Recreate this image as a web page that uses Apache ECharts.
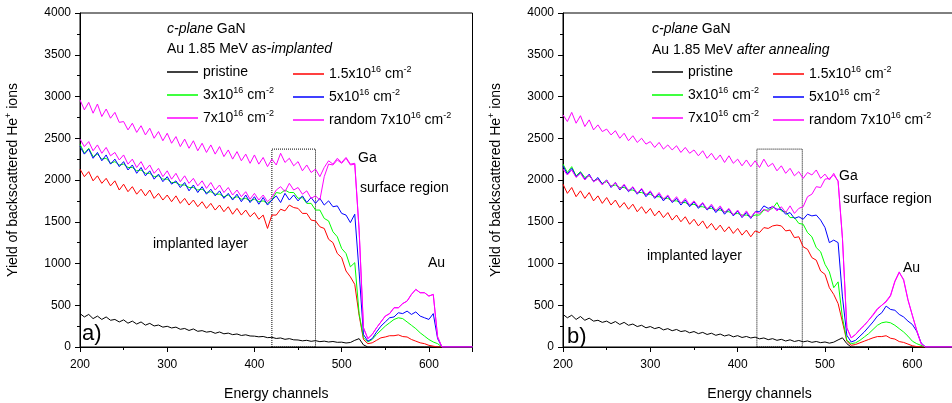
<!DOCTYPE html>
<html><head><meta charset="utf-8">
<script src="https://cdn.jsdelivr.net/npm/echarts@6/dist/echarts.min.js"></script>
<style>html,body{margin:0;padding:0;background:#fff}#c{width:952px;height:403px}</style>
</head><body><div id="c"></div><script>
// Energy channels (x values)
const channels = [
200,205,210,215,220,225,230,235,240,245,
250,255,260,265,270,275,280,285,290,295,
300,305,310,315,320,325,330,335,340,345,
350,355,360,365,370,375,380,385,390,395,
400,405,410,415,420,425,430,435,440,445,
450,455,460,465,470,475,480,485,490,495,
500,505,510,515,520,525,530,535,540,545,
550,555,560,565,570,575,580,585,590,595,
600,605,610,615,650];

const seriesNames = ['pristine','1.5x10^16 cm^-2','3x10^16 cm^-2','5x10^16 cm^-2','7x10^16 cm^-2','random 7x10^16 cm^-2'];
const seriesColors = ['#000000','#ff0000','#00ff00','#0000ff','#ff00ff','#ff00ff'];

// ---- Panel a) as-implanted ----
const pristA = [
400,360,390,340,370,330,360,320,330,300,
325,285,310,275,300,262,283,252,263,238,
248,228,238,212,222,198,216,188,196,178,
186,164,180,158,166,148,156,138,146,132,
130,122,126,112,116,102,108,92,100,86,
84,74,80,68,76,64,70,60,66,56,
58,48,54,80,100,25,0,0,0,0,
0,0,0,0,0,0,0,0,0,0,
0,0,0,0,0];
const redA = [
2130,2040,2100,1990,2050,1960,2020,1930,1990,1880,
1950,1860,1920,1830,1890,1810,1880,1780,1840,1760,
1820,1740,1810,1720,1780,1700,1760,1680,1740,1660,
1720,1640,1700,1620,1680,1590,1660,1580,1640,1560,
1610,1530,1580,1420,1580,1580,1650,1630,1700,1670,
1660,1600,1600,1520,1510,1440,1420,1290,1250,1120,
1070,910,840,750,380,90,40,50,80,110,
120,135,135,145,125,120,90,70,50,40,
20,10,0,0,0];
const greenA = [
2430,2320,2380,2280,2310,2250,2260,2200,2220,2180,
2190,2150,2150,2110,2120,2080,2080,2040,2050,2010,
2010,1970,1970,1940,1940,1910,1910,1880,1890,1850,
1860,1830,1830,1800,1820,1780,1800,1770,1780,1750,
1770,1740,1750,1720,1760,1850,1840,1880,1850,1850,
1780,1790,1720,1720,1640,1640,1540,1510,1380,1320,
1180,1120,960,1010,400,110,60,90,150,200,
250,290,330,350,340,300,260,220,170,130,
90,60,40,0,0];
const blueA = [
2400,2310,2370,2260,2330,2230,2300,2190,2250,2160,
2220,2120,2180,2080,2150,2050,2110,2010,2070,1980,
2040,1950,1990,1910,1970,1870,1940,1850,1920,1830,
1890,1810,1870,1780,1840,1760,1830,1740,1820,1730,
1800,1710,1790,1700,1760,1810,1730,1840,1760,1820,
1750,1810,1730,1790,1720,1780,1700,1750,1680,1690,
1600,1580,1490,1590,900,150,70,100,180,250,
300,350,360,410,400,430,390,420,370,350,
330,400,100,0,0];
const magA = [
2490,2400,2460,2350,2420,2320,2390,2290,2330,2240,
2300,2190,2250,2150,2220,2120,2180,2080,2140,2040,
2110,2010,2080,1980,2050,1960,2020,1930,1990,1900,
1970,1880,1940,1850,1910,1820,1880,1800,1860,1770,
1840,1760,1820,1740,1790,1880,1920,1860,1960,1880,
1910,1830,1870,1780,1810,1760,2040,2190,2180,2240,
2200,2260,2180,2190,1400,230,100,150,230,300,
370,400,470,470,520,550,630,690,650,650,
610,630,120,0,0];
const randA = [
2960,2840,2930,2800,2910,2760,2850,2740,2810,2690,
2700,2600,2680,2570,2650,2540,2620,2500,2580,2470,
2560,2440,2520,2400,2490,2380,2470,2350,2440,2330,
2420,2310,2400,2280,2360,2250,2340,2230,2310,2200,
2300,2190,2270,2160,2250,2180,2320,2210,2260,2170,
2220,2110,2180,2090,2130,2040,2150,2230,2190,2260,
2210,2270,2190,2200,1400,230,100,150,230,300,
370,400,470,470,520,550,630,690,650,650,
610,630,120,0,0];

// ---- Panel b) after annealing ----
const pristB = [
390,350,380,330,365,320,345,310,320,295,
310,280,305,270,295,260,275,245,260,230,
245,220,235,205,220,195,210,185,195,170,
185,160,175,150,165,140,155,132,146,122,
136,114,126,108,118,98,108,88,100,80,
92,72,86,66,78,62,72,56,66,52,
60,46,58,85,110,40,0,0,0,0,
0,0,0,0,0,0,0,0,0,0,
0,0,0,0,0];
const redB = [
1950,1840,1910,1800,1870,1780,1850,1750,1810,1720,
1790,1700,1760,1670,1730,1650,1710,1620,1680,1600,
1660,1570,1630,1550,1610,1520,1580,1500,1560,1470,
1530,1450,1510,1420,1480,1400,1460,1380,1440,1360,
1420,1340,1400,1320,1390,1370,1430,1420,1450,1460,
1450,1390,1400,1310,1320,1200,1170,1070,1040,910,
870,710,630,520,300,70,20,30,50,70,
90,110,125,125,135,105,95,65,55,35,
15,5,0,0,0];
const greenB = [
2190,2090,2160,2050,2100,2030,2050,1990,2010,1960,
1980,1930,1940,1910,1910,1880,1880,1850,1850,1830,
1830,1800,1800,1780,1780,1750,1750,1730,1730,1700,
1710,1680,1680,1660,1660,1640,1640,1620,1620,1590,
1600,1580,1580,1560,1580,1580,1640,1640,1660,1730,
1630,1620,1550,1550,1480,1470,1370,1320,1190,1140,
990,900,710,780,350,80,40,50,80,120,
160,210,260,290,300,290,260,220,180,130,
70,40,20,0,0];
const blueB = [
2170,2070,2140,2040,2090,2010,2070,1980,2030,1950,
2000,1910,1970,1880,1940,1860,1910,1830,1890,1800,
1860,1780,1830,1750,1810,1730,1780,1700,1760,1680,
1740,1660,1720,1640,1690,1610,1670,1590,1650,1570,
1630,1550,1610,1540,1620,1620,1690,1660,1680,1650,
1650,1590,1610,1540,1560,1530,1590,1570,1580,1520,
1430,1250,1280,1250,600,140,60,80,130,180,
240,300,370,410,490,450,440,390,360,310,
270,190,50,0,0];
const magB = [
2130,2060,2120,2030,2080,2000,2060,1980,2010,1940,
2000,1920,1970,1890,1950,1870,1920,1840,1900,1820,
1870,1790,1850,1770,1820,1740,1800,1720,1780,1700,
1750,1680,1730,1650,1710,1630,1690,1610,1660,1580,
1640,1560,1630,1550,1620,1600,1650,1620,1690,1630,
1680,1610,1690,1600,1660,1680,1800,1830,1920,1910,
2010,2020,2060,1990,1300,230,110,150,210,260,
320,380,450,500,540,610,780,890,810,570,
380,200,40,0,0];
const randB = [
2780,2700,2810,2680,2770,2640,2720,2600,2660,2580,
2610,2540,2590,2500,2560,2470,2530,2450,2500,2430,
2460,2390,2450,2370,2420,2360,2410,2330,2390,2320,
2360,2290,2350,2260,2320,2240,2300,2210,2290,2200,
2250,2170,2240,2160,2230,2150,2250,2160,2200,2110,
2170,2080,2140,2050,2100,2020,2090,2060,2120,2020,
2070,2000,2080,1980,1300,230,110,150,210,260,
320,390,460,500,550,620,790,900,800,560,
380,200,40,0,0];

// dotted boxes: [x from, x to, top]
const boxA = [420, 470, 2370];
const boxB = [422, 474, 2370];

const xTicks = {min:200, max:650, interval:100};
const yTicks = {min:0, max:4000, interval:500};

const FONT = "'Liberation Sans', Arial, Helvetica, sans-serif";
const richBase = {
  n: {fontSize:14, lineHeight:18, fontFamily:FONT, color:'#000', verticalAlign:'middle'},
  s: {fontSize:9, lineHeight:9, fontFamily:FONT, color:'#000', verticalAlign:'top'},
  i: {fontSize:14, lineHeight:18, fontFamily:FONT, color:'#000', fontStyle:'italic', verticalAlign:'middle'}
};
function toRich(name){
  let s = '{n|' + name.replace(/\^(-?\d+)/g, '}{s|$1}{n|') + '}';
  return s.replace(/\{n\|\}/g, '');
}

const chart = echarts.init(document.getElementById('c'), null, {renderer:'canvas'});

const majorTick = {show:true, inside:false, length:5, lineStyle:{color:'#000', width:1}};
const minorTick = {show:true, splitNumber:2, length:3, lineStyle:{color:'#000', width:1}};

function xAxisFor(g){
  return {gridIndex:g, type:'value', min:xTicks.min, max:xTicks.max, interval:xTicks.interval,
    name:'Energy channels', nameLocation:'middle', nameGap:40,
    nameTextStyle:{fontSize:14, color:'#000', fontFamily:FONT},
    axisLine:{show:true, onZero:false, lineStyle:{color:'#000', width:1}},
    axisTick:majorTick, minorTick:minorTick,
    axisLabel:{show:true, fontSize:12, color:'#000', fontFamily:FONT, margin:12, showMaxLabel:false, formatter:v => String(v)},
    splitLine:{show:false}, minorSplitLine:{show:false}};
}
function yAxisFor(g){
  return {gridIndex:g, type:'value', min:yTicks.min, max:yTicks.max, interval:yTicks.interval,
    name:'{n|Yield of backscattered He}{s|+}{n| ions}', nameLocation:'middle', nameGap:58,
    nameTextStyle:{fontSize:14, color:'#000', fontFamily:FONT, rich:richBase},
    axisLine:{show:true, onZero:false, lineStyle:{color:'#000', width:1}},
    axisTick:majorTick, minorTick:minorTick,
    axisLabel:{show:true, fontSize:12, color:'#000', fontFamily:FONT, margin:9, formatter:v => String(v)},
    splitLine:{show:false}, minorSplitLine:{show:false}};
}

function makeSeries(g, vals, box){
  return vals.map((v, k) => {
    const s = {type:'line', name:seriesNames[k], xAxisIndex:g, yAxisIndex:g,
      data: channels.map((c, i) => [c, v[i]]),
      showSymbol:false, symbol:'none', animation:false, silent:true,
      lineStyle:{color:seriesColors[k], width:1}, itemStyle:{color:seriesColors[k]}};
    if (k === 0) {
      s.markArea = {silent:true, itemStyle:{color:'rgba(0,0,0,0)', borderColor:'#000', borderWidth:1, borderType:'dotted'},
        data:[[{xAxis:box[0], yAxis:0}, {xAxis:box[1], yAxis:box[2]}]]};
    }
    return s;
  });
}

function legendFor(left, top, names){
  return {orient:'vertical', left:left, top:top, padding:0, icon:'rect', itemWidth:31, itemHeight:1.5, itemGap:7,
    selectedMode:false, data:names, formatter:toRich,
    textStyle:{fontSize:14, color:'#000', fontFamily:FONT, rich:richBase}};
}

function txt(left, top, text, size){
  return {type:'text', left:left, top:top, silent:true,
    style:{text:text, fill:'#000', font: (size||14) + 'px ' + FONT, rich:richBase}};
}

const option = {
  backgroundColor:'#fff',
  animation:false,
  grid:[
    {left:80, right:479.5, top:13, bottom:56, outerBoundsMode:'none', containLabel:false, show:true, borderColor:'#000', borderWidth:1, backgroundColor:'rgba(0,0,0,0)'},
    {left:563, right:-4, top:13, bottom:56, outerBoundsMode:'none', containLabel:false, show:true, borderColor:'#000', borderWidth:1, backgroundColor:'rgba(0,0,0,0)'}
  ],
  xAxis:[xAxisFor(0), xAxisFor(1)],
  yAxis:[yAxisFor(0), yAxisFor(1)],
  legend:[
    legendFor(167, 65, [seriesNames[0], seriesNames[2], seriesNames[4]]),
    legendFor(293, 65, [seriesNames[1], seriesNames[3], seriesNames[5]]),
    legendFor(652, 65, [seriesNames[0], seriesNames[2], seriesNames[4]]),
    legendFor(773, 65, [seriesNames[1], seriesNames[3], seriesNames[5]])
  ],
  graphic:[
    txt(167, 22, '{i|c-plane}{n| GaN}'),
    txt(167, 42, '{n|Au 1.85 MeV }{i|as-implanted}'),
    txt(358, 151, '{n|Ga}'),
    txt(360, 181, '{n|surface region}'),
    txt(153, 237, '{n|implanted layer}'),
    txt(428, 256, '{n|Au}'),
    {type:'text', left:82, top:323, silent:true, style:{text:'a)', fill:'#000', font:'22px ' + FONT}},
    txt(652, 22, '{i|c-plane}{n| GaN}'),
    txt(652, 43, '{n|Au 1.85 MeV }{i|after annealing}'),
    txt(839, 169, '{n|Ga}'),
    txt(843, 192, '{n|surface region}'),
    txt(647, 249, '{n|implanted layer}'),
    txt(903, 261, '{n|Au}'),
    {type:'text', left:567, top:326, silent:true, style:{text:'b)', fill:'#000', font:'22px ' + FONT}}
  ],
  series: [].concat(
    makeSeries(0, [pristA, redA, greenA, blueA, magA, randA], boxA),
    makeSeries(1, [pristB, redB, greenB, blueB, magB, randB], boxB)
  )
};
chart.setOption(option);
</script></body></html>
